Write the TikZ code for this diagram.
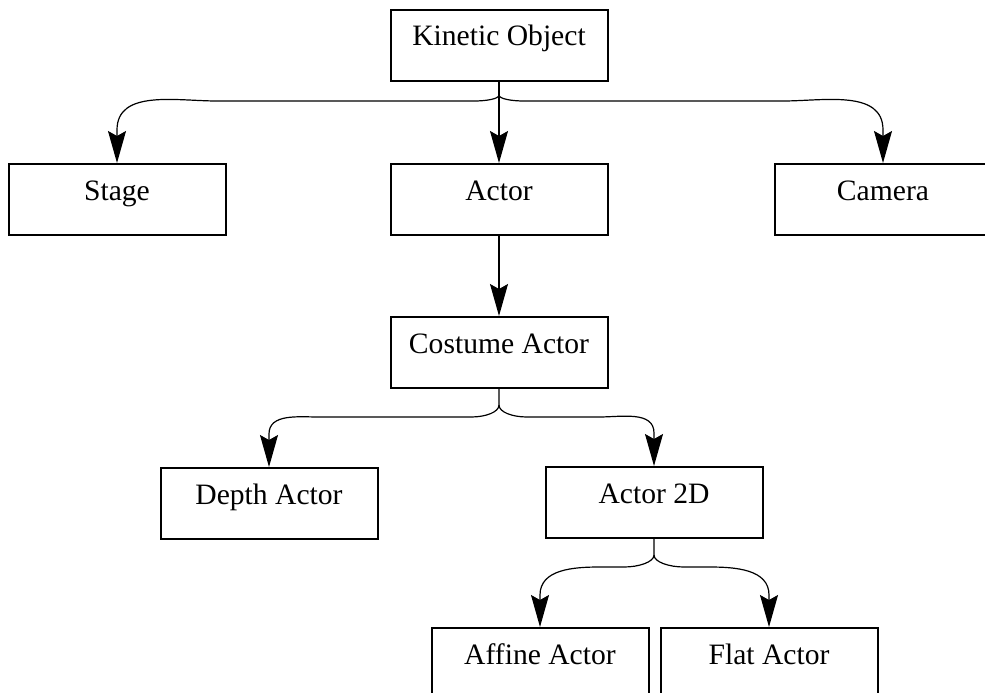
\documentclass[tikz,border=0pt]{standalone}
\usepackage{fontspec}
\setmainfont{Liberation Serif}
\usetikzlibrary{arrows.meta,calc}

\tikzset{
  box/.style={draw, line width=2pt, anchor=north,
    minimum width=217pt, inner xsep=0pt, inner ysep=0pt,
    text height=36pt, text depth=35pt,
    font=\fontsize{29.6}{34}\selectfont},
  edge/.style={line width=1.2pt, line join=round,
    -{Stealth[length=32pt,width=18pt,inset=5pt]}}
}

\begin{document}
\begin{tikzpicture}[x=1pt,y=1pt]
  \useasboundingbox (0,0) rectangle (985,-693);
  \clip (0,0) rectangle (985,-693);

  % class boxes
  \node[box] (ko)    at (499,-9)    {Kinetic Object};
  \node[box] (stage) at (117,-163)  {Stage};
  \node[box] (actor) at (499,-163)  {Actor};
  \node[box] (cam)   at (883,-163)  {Camera};
  \node[box] (cos)   at (499,-316)  {Costume Actor};
  \node[box] (depth) at (269,-467)  {Depth Actor};
  \node[box] (a2d)   at (654,-466)  {Actor 2D};
  \node[box] (aff)   at (540,-627)  {Affine Actor};
  \node[box] (flat)  at (769,-627)  {Flat Actor};

  % branch points below each parent
  \coordinate (koj)  at ($(ko.south)+(0,-13)$);
  \coordinate (koh)  at ($(ko.south)+(0,-19)$);
  \coordinate (cosj) at ($(cos.south)+(0,-16)$);
  \coordinate (cosh) at ($(cos.south)+(0,-28)$);
  \coordinate (a2dj) at ($(a2d.south)+(0,-16)$);
  \coordinate (a2dh) at ($(a2d.south)+(0,-28)$);

  % Kinetic Object -> Stage, Actor, Camera
  \draw[edge] (ko.south) -- (koj)
    .. controls +(0,-4) and +(12,0) .. ($(koh)+(-25,0)$)
    -- ($(stage.north|-koh)+(100,0)$)
    to[out=180,in=90] ($(stage.north)+(0,33)$) -- (stage.north);
  \draw[edge] (koj)
    .. controls +(0,-4) and +(-12,0) .. ($(koh)+(25,0)$)
    -- ($(cam.north|-koh)+(-100,0)$)
    to[out=0,in=90] ($(cam.north)+(0,33)$) -- (cam.north);
  \draw[edge] (ko.south) -- (actor.north);

  % Actor -> Costume Actor
  \draw[edge] (actor.south) -- (cos.north);

  % Costume Actor -> Depth Actor, Actor 2D
  \draw[edge] (cos.south) -- (cosj)
    .. controls +(0,-7) and +(15,0) .. ($(cosh)+(-28,0)$)
    -- ($(depth.north|-cosh)+(50,0)$)
    to[out=180,in=90] ($(depth.north)+(0,33)$) -- (depth.north);
  \draw[edge] (cosj)
    .. controls +(0,-7) and +(-15,0) .. ($(cosh)+(28,0)$)
    -- ($(a2d.north|-cosh)+(-55,0)$)
    to[out=0,in=90] ($(a2d.north)+(0,33)$) -- (a2d.north);

  % Actor 2D -> Affine Actor, Flat Actor
  \draw[edge] (a2d.south) -- (a2dj)
    .. controls +(0,-7) and +(15,0) .. ($(a2dh)+(-30,0)$)
    -- ($(aff.north|-a2dh)+(60,0)$)
    to[out=180,in=90] ($(aff.north)+(0,32)$) -- (aff.north);
  \draw[edge] (a2dj)
    .. controls +(0,-7) and +(-15,0) .. ($(a2dh)+(30,0)$)
    -- ($(flat.north|-a2dh)+(-60,0)$)
    to[out=0,in=90] ($(flat.north)+(0,32)$) -- (flat.north);
\end{tikzpicture}
\end{document}
